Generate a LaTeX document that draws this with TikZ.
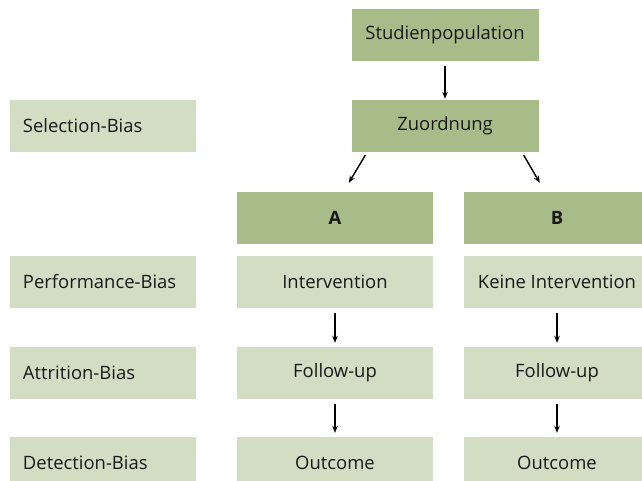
\documentclass[tikz,border=0pt]{standalone}
\usepackage{fontspec}
\setmainfont{Open Sans}
\usepackage{tikz}
\usetikzlibrary{arrows.meta}
\definecolor{gruendunkel}{HTML}{A8BC8A}
\definecolor{gruenhell}{HTML}{D3DDC3}

\begin{document}
\begin{tikzpicture}[x=1bp, y=-1bp,
    kasten/.style={minimum height=52bp, inner sep=0pt, text=black!90,
        font=\fontsize{18.5}{22}\selectfont},
    dunkel/.style={kasten, fill=gruendunkel, minimum width=196bp},
    hell/.style={kasten, fill=gruenhell, minimum width=196bp},
    bias/.style={kasten, fill=gruenhell, inner xsep=13bp, text width=160bp, align=left},
    pfeil/.style={-{Stealth[length=7bp,width=5.5bp]}, line width=1.4bp}]
\useasboundingbox (0,0) rectangle (642,481);
\clip (0,0) rectangle (642,481);

% Randomisierung
\node[dunkel, minimum width=187bp] (pop) at (445,35) {Studienpopulation};
\node[dunkel, minimum width=187bp] (zuo) at (445,126) {Zuordnung};

% Gruppen
\node[dunkel] (A) at (335,218) {\textbf{A}};
\node[dunkel, minimum width=186bp] (B) at (557,218) {\textbf{B}};

% Spalte A
\node[hell] (intA) at (335,281.5) {Intervention};
\node[hell] (folA) at (335,373) {Follow-up};
\node[hell] (outA) at (335,463) {Outcome};

% Spalte B
\node[hell, minimum width=186bp] (intB) at (557,281.5) {Keine Intervention};
\node[hell, minimum width=186bp] (folB) at (557,373) {Follow-up};
\node[hell, minimum width=186bp] (outB) at (557,463) {Outcome};

% Bias-Arten
\foreach \name/\y/\text in {sel/126/Selection-Bias, perf/281.5/Performance-Bias,
    attr/373/Attrition-Bias, det/463/Detection-Bias} {
    \node[bias] (\name) at (103,\y) {\text};
}

% Pfeile
\draw[pfeil, shorten <=5bp, shorten >=1bp] (pop) -- (zuo);
\draw[pfeil] ([shift={(14,3)}]zuo.south west) -- ([shift={(112,-9)}]A.north west);
\draw[pfeil] ([shift={(-15,3)}]zuo.south east) -- ([shift={(76,-9)}]B.north west);
\foreach \a/\b in {intA/folA, folA/outA, intB/folB, folB/outB} {
    \draw[pfeil, shorten <=5bp, shorten >=4bp] (\a) -- (\b);
}
\end{tikzpicture}
\end{document}
